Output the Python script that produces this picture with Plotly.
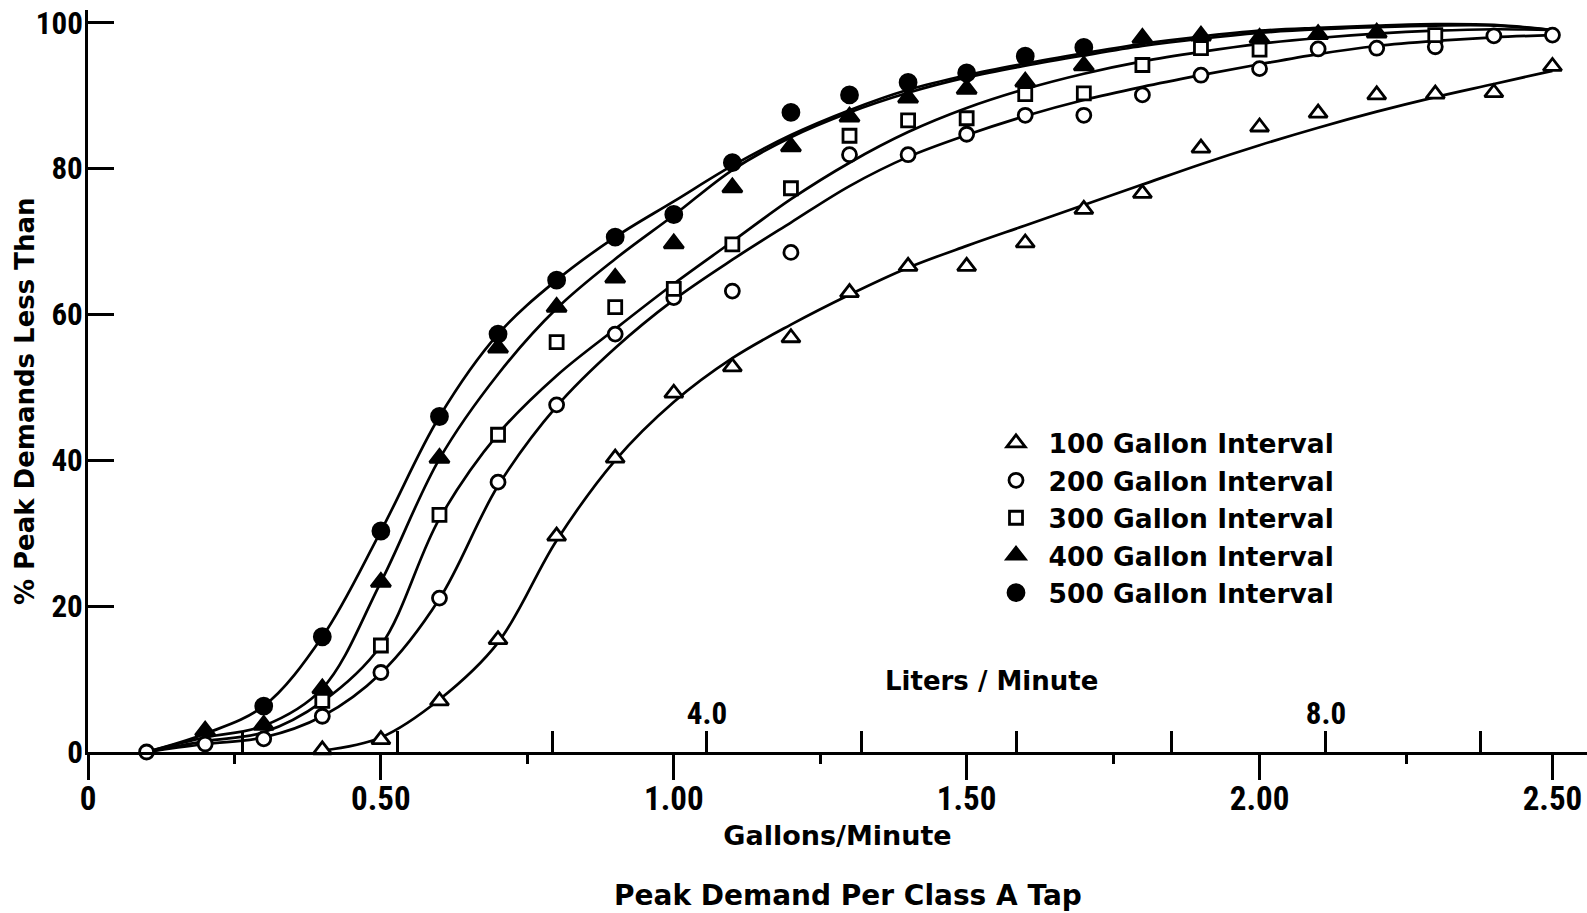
import plotly.graph_objects as go

# ---------------- data ----------------
GAL_PER_LITER = 0.264172

x_100 = [0.4, 0.5, 0.6, 0.7, 0.8, 0.9, 1.0, 1.1, 1.2, 1.3, 1.4, 1.5, 1.6, 1.7, 1.8, 1.9, 2.0, 2.1, 2.2, 2.3, 2.4, 2.5]
y_100 = [0.3, 1.7, 7.0, 15.4, 29.6, 40.3, 49.2, 52.8, 56.8, 63.0, 66.6, 66.6, 69.8, 74.4, 76.6, 82.8, 85.7, 87.6, 90.1, 90.2, 90.4, 94.0]

x_200 = [0.1, 0.2, 0.3, 0.4, 0.5, 0.6, 0.7, 0.8, 0.9, 1.0, 1.1, 1.2, 1.3, 1.4, 1.5, 1.6, 1.7, 1.8, 1.9, 2.0, 2.1, 2.2, 2.3, 2.4, 2.5]
y_200 = [0.0, 1.1, 1.8, 4.9, 10.9, 21.1, 37.0, 47.6, 57.3, 62.3, 63.2, 68.5, 81.9, 81.9, 84.7, 87.3, 87.3, 90.1, 92.8, 93.7, 96.4, 96.5, 96.7, 98.2, 98.3]

x_300 = [0.4, 0.5, 0.6, 0.7, 0.8, 0.9, 1.0, 1.1, 1.2, 1.3, 1.4, 1.5, 1.6, 1.7, 1.8, 1.9, 2.0, 2.3]
y_300 = [7.0, 14.6, 32.5, 43.5, 56.2, 61.0, 63.5, 69.6, 77.3, 84.5, 86.6, 86.9, 90.2, 90.3, 94.2, 96.5, 96.3, 98.3]

x_400 = [0.2, 0.3, 0.4, 0.5, 0.6, 0.7, 0.8, 0.9, 1.0, 1.1, 1.2, 1.3, 1.4, 1.5, 1.6, 1.7, 1.8, 1.9, 2.0, 2.1, 2.2]
y_400 = [2.9, 3.7, 8.7, 23.3, 40.3, 55.4, 61.0, 65.0, 69.7, 77.4, 83.0, 87.1, 89.7, 90.9, 91.9, 94.1, 97.9, 98.2, 97.9, 98.4, 98.6]

x_500 = [0.3, 0.4, 0.5, 0.6, 0.7, 0.8, 0.9, 1.0, 1.1, 1.2, 1.3, 1.4, 1.5, 1.6, 1.7]
y_500 = [6.3, 15.8, 30.3, 46.0, 57.3, 64.7, 70.6, 73.7, 80.8, 87.7, 90.1, 91.8, 93.1, 95.4, 96.6]

# fitted (hand-drawn) curves
cx_100 = [0.4, 0.5, 0.6, 0.7, 0.8, 0.9, 1.0, 1.1, 1.2, 1.3, 1.4, 1.5, 1.6, 1.7, 1.8, 1.9, 2.0, 2.1, 2.2, 2.3, 2.4, 2.5]
cy_100 = [0.2, 2.0, 7.2, 15.0, 29.0, 40.0, 48.0, 54.0, 58.6, 62.7, 66.4, 69.4, 72.2, 75.0, 77.8, 80.6, 83.2, 85.6, 87.8, 89.8, 91.6, 93.4]
cx_all = [0.1, 0.2, 0.3, 0.4, 0.5, 0.6, 0.7, 0.8, 0.9, 1.0, 1.1, 1.2, 1.3, 1.4, 1.5, 1.6, 1.7, 1.8, 1.9, 2.0, 2.1, 2.2, 2.3, 2.4, 2.5]
cy_200 = [0.0, 1.1, 2.0, 4.9, 10.8, 21.0, 36.5, 47.4, 55.4, 62.0, 67.5, 72.6, 77.6, 81.6, 84.6, 87.2, 89.4, 91.2, 92.8, 94.3, 95.7, 96.8, 97.5, 98.0, 98.3]
cy_300 = [0.0, 1.5, 2.7, 6.9, 14.6, 32.0, 43.6, 51.6, 58.0, 64.2, 70.0, 75.8, 80.8, 85.0, 88.3, 90.9, 93.0, 94.7, 96.0, 97.1, 97.9, 98.5, 98.9, 99.1, 99.0]
cy_400 = [0.0, 2.0, 3.6, 8.7, 23.3, 40.2, 51.8, 60.8, 67.6, 73.6, 79.8, 84.3, 87.7, 90.4, 92.5, 94.1, 95.5, 96.8, 97.8, 98.6, 99.1, 99.4, 99.6, 99.6, 99.0]
cy_500 = [0.0, 2.5, 6.3, 15.8, 30.3, 46.0, 57.3, 64.7, 70.6, 75.5, 80.4, 84.6, 88.0, 90.8, 92.8, 94.4, 95.8, 97.1, 98.1, 98.9, 99.3, 99.6, 99.8, 99.7, 99.0]

series_names = ["100 Gallon Interval", "200 Gallon Interval", "300 Gallon Interval",
                "400 Gallon Interval", "500 Gallon Interval"]

gal_tickvals = [0, 0.5, 1.0, 1.5, 2.0, 2.5]
gal_ticktext = ["0", "0.50", "1.00", "1.50", "2.00", "2.50"]
liter_tickvals = [1, 2, 3, 4, 5, 6, 7, 8, 9]
liter_ticktext = ["", "", "", "4.0", "", "", "", "8.0", ""]
y_tickvals = [0, 20, 40, 60, 80, 100]

# ---------------- styling ----------------
TICKFONT = "Liberation Sans Narrow, Roboto Condensed, DejaVu Sans Condensed, Arial Narrow, Roboto, sans-serif"
TEXTFONT = "DejaVu Sans, Verdana, sans-serif"
INK = "black"
LW = 2.7


def tfont(size):
    return dict(family=TICKFONT, size=size, color=INK, weight="bold")


def xfont(size):
    return dict(family=TEXTFONT, size=size, color=INK, weight="bold")


x_range = [0, 2.559]
y_range = [0, 101.74]

fig = go.Figure()

curves = [(cx_100, cy_100), (cx_all, cy_200), (cx_all, cy_300), (cx_all, cy_400), (cx_all, cy_500)]
for cx, cy in curves:
    fig.add_trace(go.Scatter(x=cx, y=cy, mode="lines", showlegend=False, hoverinfo="skip",
                             line=dict(color=INK, width=LW, shape="spline", smoothing=1.0),
                             cliponaxis=False))

marks = [
    (x_100, y_100, "triangle-up", "white", 16),
    (x_200, y_200, "circle", "white", 14),
    (x_300, y_300, "square", "white", 13),
    (x_400, y_400, "triangle-up", INK, 17),
    (x_500, y_500, "circle", INK, 16),
]
for (mx, my, sym, fill, size), name in zip(marks, series_names):
    fig.add_trace(go.Scatter(x=mx, y=my, mode="markers", name=name, cliponaxis=False,
                             marker=dict(symbol=sym, size=size, color=fill,
                                         line=dict(color=INK, width=2.8))))

# invisible trace to activate the liters axis
fig.add_trace(go.Scatter(x=[x_range[0] / GAL_PER_LITER, x_range[1] / GAL_PER_LITER], y=[None, None],
                         xaxis="x2", mode="lines", showlegend=False, hoverinfo="skip"))

fig.update_layout(
    width=1587, height=913,
    margin=dict(l=88, r=0, t=10, b=161),
    paper_bgcolor="white", plot_bgcolor="white",
    font=xfont(27),
    showlegend=True,
    legend=dict(x=0.5974, y=0.4486, xanchor="left", yanchor="top",
                font=xfont(26.5),
                bgcolor="rgba(0,0,0,0)", itemwidth=55, tracegroupgap=0),
    xaxis=dict(range=x_range, showgrid=False, zeroline=False,
               showline=True, linecolor=INK, linewidth=3,
               tickmode="array", tickvals=gal_tickvals, ticktext=gal_ticktext,
               ticks="outside", ticklen=25, tickwidth=2.7, tickcolor=INK,
               ticklabelstandoff=-10,
               tickfont=tfont(33),
               minor=dict(ticks="outside", ticklen=9, tickwidth=2.7, tickcolor=INK,
                          tickmode="linear", tick0=0, dtick=0.25),
               title=dict(text="Gallons/Minute", standoff=10, font=xfont(27))),
    xaxis2=dict(overlaying="x", anchor="free", position=0, side="top",
                range=[x_range[0] / GAL_PER_LITER, x_range[1] / GAL_PER_LITER],
                showgrid=False, zeroline=False, showline=False,
                tickmode="array", tickvals=liter_tickvals, ticktext=liter_ticktext,
                ticks="outside", ticklen=21, tickwidth=2.7, tickcolor=INK,
                ticklabelstandoff=-5,
                tickfont=tfont(31)),
    yaxis=dict(range=y_range, showgrid=False, zeroline=False,
               showline=True, linecolor=INK, linewidth=3,
               tickmode="array", tickvals=y_tickvals,
               ticks="inside", ticklen=26, tickwidth=2.7, tickcolor=INK,
               ticklabelstandoff=-4,
               tickfont=tfont(31)),
    annotations=[
        dict(text="Liters / Minute", xref="paper", yref="paper", x=0.603, y=0.0953,
             xanchor="center", yanchor="middle", showarrow=False, font=xfont(26)),
        dict(text="% Peak Demands Less Than", xref="paper", yref="paper", x=-0.042, y=0.473,
             xanchor="center", yanchor="middle", showarrow=False, textangle=-90,
             font=xfont(26)),
        dict(text="Peak Demand Per Class A Tap", xref="paper", yref="paper", x=0.507, y=-0.193,
             xanchor="center", yanchor="middle", showarrow=False, font=xfont(28)),
    ],
)

fig.write_html("out.html")
